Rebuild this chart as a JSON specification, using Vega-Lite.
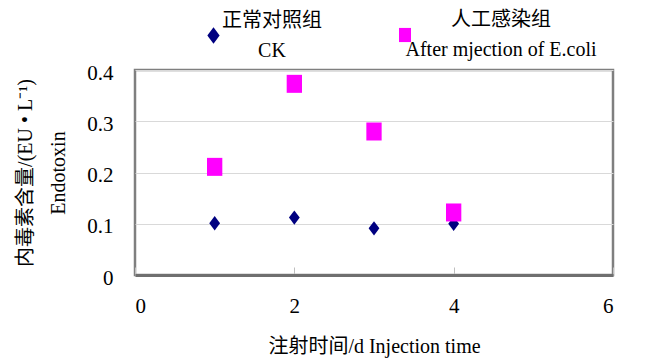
{
  "$schema": "https://vega.github.io/schema/vega-lite/v6.json",
  "width": 478,
  "height": 205,
  "autosize": {"type": "none"},
  "padding": {"left": 135, "top": 70, "right": 43, "bottom": 85},
  "background": "white",
  "config": {
    "font": "Liberation Serif, Noto Sans CJK SC",
    "view": {"stroke": "#7f7f7f", "strokeWidth": 2.5},
    "style": {"guide-label": {"lineHeight": 30, "dy": -15}},
    "legend": {
      "orient": "none",
      "direction": "horizontal",
      "title": null,
      "labelFontSize": 20,
      "labelColor": "black",
      "labelLimit": 0,
      "labelAlign": "center",
      "symbolStrokeWidth": 0
    }
  },
  "data": {
    "values": [
      {"day": 1, "value": 0.101, "group": "CK"},
      {"day": 2, "value": 0.112, "group": "CK"},
      {"day": 3, "value": 0.091, "group": "CK"},
      {"day": 4, "value": 0.100, "group": "CK"},
      {"day": 1, "value": 0.211, "group": "E.coli"},
      {"day": 2, "value": 0.373, "group": "E.coli"},
      {"day": 3, "value": 0.280, "group": "E.coli"},
      {"day": 4, "value": 0.122, "group": "E.coli"}
    ]
  },
  "encoding": {
    "x": {
      "field": "day",
      "type": "quantitative",
      "scale": {"domain": [0, 6], "nice": false, "zero": false},
      "axis": {
        "values": [0, 2, 4, 6],
        "title": "注射时间/d Injection time",
        "grid": false,
        "tickSize": -8,
        "tickColor": "#bfbfbf",
        "tickWidth": 1,
        "labelPadding": 43,
        "labelFontSize": 21,
        "labelColor": "black",
        "titleFontSize": 20,
        "titleFontWeight": "normal",
        "titleColor": "black",
        "titlePadding": 20,
        "domainColor": "#6f6f6f",
        "domainWidth": 3
      }
    },
    "y": {
      "field": "value",
      "type": "quantitative",
      "scale": {"domain": [0, 0.4], "nice": false},
      "axis": {
        "values": [0, 0.1, 0.2, 0.3, 0.4],
        "format": "~g",
        "title": ["内毒素含量/(EU • L⁻¹)", "Endotoxin"],
        "titleLineHeight": 33,
        "ticks": false,
        "domain": false,
        "grid": true,
        "gridColor": "#d9d9d9",
        "gridWidth": 1,
        "labelPadding": 22,
        "labelOffset": 18,
        "labelFontSize": 21,
        "labelColor": "black",
        "titleFontSize": 20,
        "titleFontWeight": "normal",
        "titleColor": "black",
        "titlePadding": 18
      }
    }
  },
  "layer": [
    {
      "transform": [{"filter": "datum.group == 'CK'"}],
      "mark": {"type": "point", "filled": true, "opacity": 1, "size": 324, "strokeWidth": 0},
      "encoding": {
        "color": {
          "field": "group",
          "type": "nominal",
          "scale": {"domain": ["CK"], "range": ["#000080"]},
          "legend": {
            "legendX": 68,
            "legendY": -45,
            "symbolSize": 420,
            "labelOffset": 48,
            "labelExpr": "['正常对照组', 'CK']"
          }
        },
        "shape": {
          "field": "group",
          "type": "nominal",
          "scale": {"domain": ["CK"], "range": ["M-0.6,0L0,-0.8L0.6,0L0,0.8Z"]},
          "legend": {
            "legendX": 68,
            "legendY": -45,
            "symbolSize": 420,
            "labelOffset": 48,
            "labelExpr": "['正常对照组', 'CK']"
          }
        }
      }
    },
    {
      "transform": [{"filter": "datum.group == 'E.coli'"}],
      "mark": {"type": "point", "filled": true, "opacity": 1, "size": 324, "strokeWidth": 0},
      "encoding": {
        "color": {
          "field": "group",
          "type": "nominal",
          "scale": {"domain": ["E.coli"], "range": ["#ff00ff"]},
          "legend": {
            "legendX": 260,
            "legendY": -45,
            "symbolSize": 200,
            "labelOffset": 86,
            "labelExpr": "['人工感染组', 'After mjection of E.coli']"
          }
        },
        "shape": {
          "field": "group",
          "type": "nominal",
          "scale": {"domain": ["E.coli"], "range": ["M-0.85,-1H0.85V1H-0.85Z"]},
          "legend": {
            "legendX": 260,
            "legendY": -45,
            "symbolSize": 200,
            "labelOffset": 86,
            "labelExpr": "['人工感染组', 'After mjection of E.coli']"
          }
        }
      }
    }
  ],
  "resolve": {
    "scale": {"color": "independent", "shape": "independent"},
    "legend": {"color": "independent", "shape": "independent"}
  }
}
